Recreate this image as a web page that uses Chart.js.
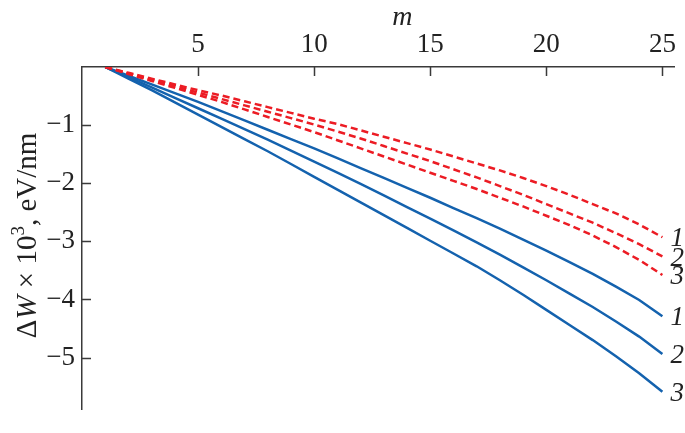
<!DOCTYPE html>
<html>
<head>
<meta charset="utf-8">
<script src="https://cdn.jsdelivr.net/npm/chart.js@4"></script>
<style>
  html, body { margin: 0; padding: 0; background: #ffffff; }
  #wrap { width: 685px; height: 433px; position: relative; }
</style>
</head>
<body>
<div id="wrap"><canvas id="chart"></canvas></div>
<script>
// m values (x axis)
const mValues = [1, 2, 3, 4, 5, 6, 7, 8, 9, 10, 11, 12, 13, 14, 15, 16, 17, 18, 19, 20, 21, 22, 23, 24, 25];

// dashed red curves 1, 2, 3
const red1 = [0, -0.10, -0.20, -0.30, -0.40, -0.49, -0.59, -0.69, -0.79, -0.89, -0.98, -1.09, -1.20, -1.31, -1.42, -1.54, -1.66, -1.78, -1.91, -2.05, -2.20, -2.36, -2.52, -2.71, -2.93];
const red2 = [0, -0.11, -0.22, -0.33, -0.44, -0.55, -0.66, -0.77, -0.88, -0.99, -1.11, -1.23, -1.36, -1.49, -1.62, -1.76, -1.90, -2.05, -2.20, -2.36, -2.52, -2.68, -2.86, -3.05, -3.26];
const red3 = [0, -0.12, -0.24, -0.36, -0.48, -0.60, -0.73, -0.86, -0.99, -1.12, -1.26, -1.40, -1.54, -1.68, -1.82, -1.96, -2.10, -2.25, -2.40, -2.56, -2.72, -2.90, -3.10, -3.32, -3.58];

// solid blue curves 1, 2, 3
const blue1 = [0, -0.15, -0.30, -0.45, -0.60, -0.76, -0.92, -1.08, -1.24, -1.40, -1.57, -1.74, -1.91, -2.08, -2.25, -2.43, -2.60, -2.78, -2.97, -3.16, -3.36, -3.56, -3.78, -4.01, -4.29];
const blue2 = [0, -0.175, -0.35, -0.53, -0.71, -0.89, -1.07, -1.25, -1.44, -1.63, -1.82, -2.01, -2.21, -2.41, -2.61, -2.81, -3.02, -3.23, -3.45, -3.67, -3.90, -4.13, -4.38, -4.64, -4.94];
const blue3 = [0, -0.20, -0.40, -0.61, -0.82, -1.03, -1.24, -1.45, -1.67, -1.89, -2.11, -2.33, -2.55, -2.77, -2.99, -3.21, -3.43, -3.67, -3.92, -4.18, -4.44, -4.70, -4.98, -5.27, -5.59];

const seriesLabels = ['1', '2', '3', '1', '2', '3'];
const xTicks = [5, 10, 15, 20, 25];
const yTicks = [-1, -2, -3, -4, -5];

const RED = '#ec1c24';
const BLUE = '#1462ae';
const AXIS = '#3a3a3a';
const SERIF = '"Liberation Serif", "Times New Roman", Tinos, serif';

function toPoints(arr)
{
	return mValues.map((m, i) => ({ x: m, y: arr[i] }));
}

function makeSet(arr, color, dashed, label)
{
	return {
		label: label,
		data: toPoints(arr),
		borderColor: color,
		borderWidth: 2.5,
		borderDash: dashed ? [7, 4] : [],
		pointRadius: 0,
		tension: 0,
		fill: false
	};
}

const extras = {
	id: 'extras',
	afterDraw(chart)
	{
		const ctx = chart.ctx;
		const xs = chart.scales.x;
		const ys = chart.scales.y;
		const area = chart.chartArea;
		ctx.save();

		// inward tick marks
		ctx.strokeStyle = AXIS;
		ctx.lineWidth = 1.5;
		ctx.beginPath();
		xTicks.forEach(v => {
			const px = Math.round(xs.getPixelForValue(v)) + 0.5;
			ctx.moveTo(px, area.top);
			ctx.lineTo(px, area.top + 9);
		});
		yTicks.forEach(v => {
			const py = Math.round(ys.getPixelForValue(v)) + 0.5;
			ctx.moveTo(area.left, py);
			ctx.lineTo(area.left + 9, py);
		});
		ctx.stroke();

		// curve numbers at the right ends
		ctx.fillStyle = '#222';
		ctx.font = 'italic 27px ' + SERIF;
		ctx.textAlign = 'left';
		ctx.textBaseline = 'middle';
		chart.data.datasets.forEach((ds, i) => {
			const last = ds.data[ds.data.length - 1];
			const px = xs.getPixelForValue(last.x) + 8;
			const py = ys.getPixelForValue(last.y) + 2;
			ctx.fillText(seriesLabels[i], px, py);
		});

		// x axis title
		ctx.font = 'italic 28px ' + SERIF;
		ctx.textAlign = 'center';
		ctx.textBaseline = 'alphabetic';
		ctx.fillText('m', xs.getPixelForValue(13.8), 25);

		// y axis title, rotated, mixed fonts
		const parts = [
			{ t: '\u0394', f: '29px ' + SERIF, dy: 0 },
			{ t: 'W', f: 'italic 29px ' + SERIF, dy: 0 },
			{ t: ' \u00d7 10', f: '29px ' + SERIF, dy: 0 },
			{ t: '3', f: '19px ' + SERIF, dy: -12 },
			{ t: ', eV/nm', f: '29px ' + SERIF, dy: 0 }
		];
		let total = 0;
		parts.forEach(p => { ctx.font = p.f; p.w = ctx.measureText(p.t).width; total += p.w; });
		ctx.translate(36, (area.top + area.bottom) / 2 - 3);
		ctx.rotate(-Math.PI / 2);
		ctx.textAlign = 'left';
		let cx = -total / 2;
		parts.forEach(p => {
			ctx.font = p.f;
			ctx.fillText(p.t, cx, p.dy);
			cx += p.w;
		});
		ctx.restore();
	}
};

new Chart(document.getElementById('chart'), {
	type: 'line',
	data: {
		datasets: [
			makeSet(red1, RED, true, 'red 1'),
			makeSet(red2, RED, true, 'red 2'),
			makeSet(red3, RED, true, 'red 3'),
			makeSet(blue1, BLUE, false, 'blue 1'),
			makeSet(blue2, BLUE, false, 'blue 2'),
			makeSet(blue3, BLUE, false, 'blue 3')
		]
	},
	options: {
		responsive: true,
		maintainAspectRatio: false,
		animation: false,
		layout: { padding: { left: 0, right: 11, top: 0, bottom: 3 } },
		plugins: {
			legend: { display: false },
			tooltip: { enabled: false }
		},
		scales: {
			x: {
				type: 'linear',
				position: 'top',
				min: 0,
				max: 25.5,
				grid: { display: false, drawTicks: false },
				border: { display: true, color: AXIS, width: 1.5 },
				afterBuildTicks: scale => { scale.ticks = xTicks.map(v => ({ value: v })); },
				ticks: {
					padding: 6,
					color: '#222',
					font: { family: SERIF, size: 27 },
					maxRotation: 0,
					autoSkip: false,
					callback: v => String(v)
				},
				afterFit: scale => { scale.height = 67; }
			},
			y: {
				type: 'linear',
				min: -5.9,
				max: 0,
				grid: { display: false, drawTicks: false },
				border: { display: true, color: AXIS, width: 1.5 },
				afterBuildTicks: scale => { scale.ticks = yTicks.map(v => ({ value: v })); },
				ticks: {
					padding: 7,
					color: '#222',
					font: { family: SERIF, size: 27 },
					autoSkip: false,
					callback: v => '\u2212' + Math.abs(v)
				},
				afterFit: scale => { scale.width = 82; }
			}
		}
	},
	plugins: [extras]
});
</script>
</body>
</html>
